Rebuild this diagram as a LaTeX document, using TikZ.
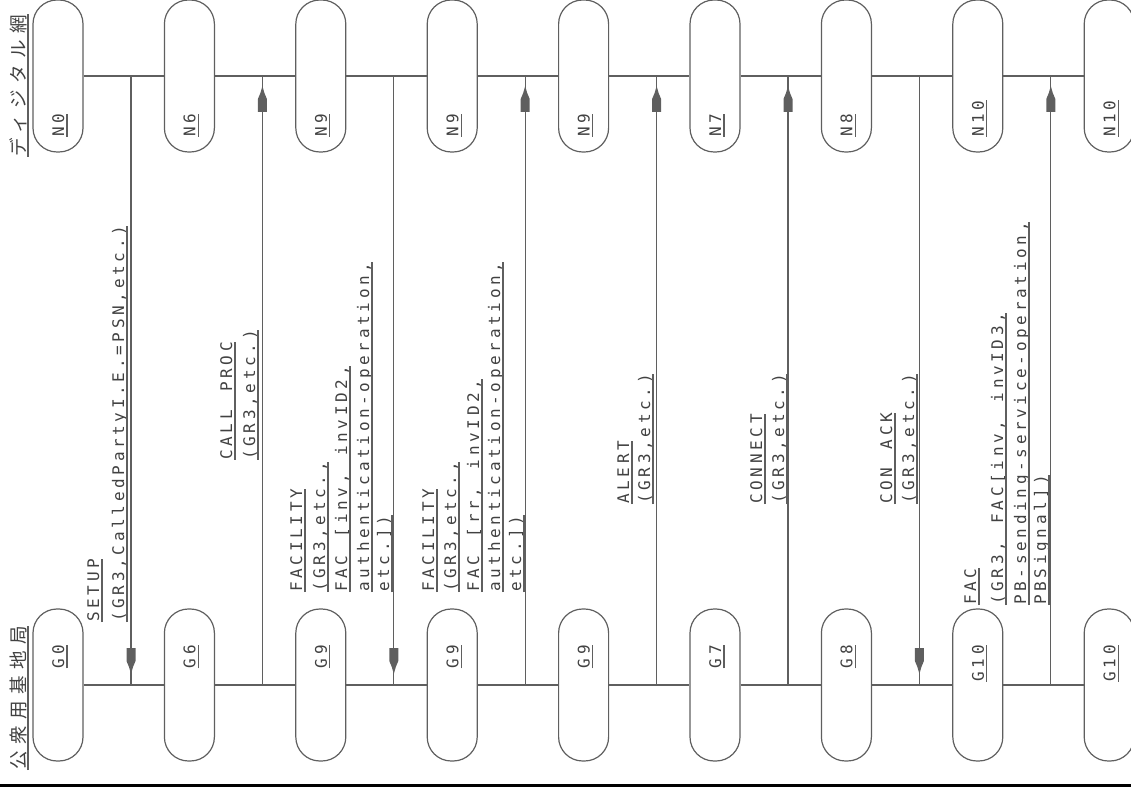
\documentclass[tikz,border=0pt]{standalone}
\usepackage{fontspec}
\usetikzlibrary{calc}
\newfontfamily\lblfont[LetterSpace=23,WordSpace=1.38]{DejaVu Sans Mono}
\newfontfamily\jpfont[LetterSpace=35]{Noto Sans CJK JP}
\definecolor{ink}{RGB}{65,65,65}
\definecolor{lin}{RGB}{95,95,95}
\newcommand\mylbl[4]{%
  \node[txt, anchor=south west] (#1) at (#2,#3) {#4};
  \draw[uline] (#1.south west) -- (#1.south east);}
\begin{document}
\begin{tikzpicture}[x=0.75pt,y=-0.75pt,
  stad/.style={draw=lin, line width=0.9pt, rounded corners=18pt,
    minimum width=37.5pt, minimum height=114pt, inner sep=0pt},
  ln/.style={draw=lin, line width=0.9pt},
  uline/.style={draw=lin, line width=0.8pt},
  txt/.style={rotate=90, inner sep=0pt, text height=0.75em, text depth=0.2em,
    font=\lblfont\fontsize{12}{14}\selectfont, text=ink},
  jp/.style={rotate=90, inner sep=0pt, text height=0.88em, text depth=0.14em,
    font=\jpfont\fontsize{13.9}{16}\selectfont, text=ink},
  arr/.style={fill=lin}]
\useasboundingbox (0,0) rectangle (1131,787);

% state boxes and their labels
\foreach \i/\nl/\gl in {0/N0/G0,1/N6/G6,2/N9/G9,3/N9/G9,4/N9/G9,5/N7/G7,6/N8/G8,7/N10/G10,8/N10/G10}{
  \pgfmathsetmacro\cx{58+131.4*\i}
  \node[stad] (n\i) at (\cx,76) {};
  \node[stad] (g\i) at (\cx,685) {};
  \node[txt, anchor=south west] (nl\i) at (\cx+9,137) {\nl};
  \draw[uline] (nl\i.south west) -- (nl\i.south east);
  \node[txt, anchor=south east] (gl\i) at (\cx+9,645) {\gl};
  \draw[uline] (gl\i.south west) -- (gl\i.south east);
}

% horizontal connections
\foreach \i [evaluate=\i as \j using int(\i+1)] in {0,...,7}{
  \draw[ln] (n\i) -- (n\j);
  \draw[ln] (g\i) -- (g\j);
}

% message lines
\foreach \i in {0,...,7}{
  \pgfmathsetmacro\mx{131+131.4*\i}
  \coordinate (t\i) at (\mx,76);
  \coordinate (b\i) at (\mx,685);
  \draw[ln] (t\i) -- (b\i);
}
% downward arrowheads
\foreach \i in {0,2,6}{
  \fill[arr] ($(b\i)+(0,-11)$) -- ++(2,-7) -- ++(2.5,-6) -- ++(0,-13) -- ++(-9,0) -- ++(0,13) -- ++(2.5,6) -- cycle;
}
% upward arrowheads
\foreach \i in {1,3,4,5,7}{
  \fill[arr] ($(t\i)+(0,10)$) -- ++(2,7) -- ++(2.5,6) -- ++(0,13) -- ++(-9,0) -- ++(0,-13) -- ++(2.5,-6) -- cycle;
}

% message labels
\mylbl{s1}{102}{622}{SETUP}
\mylbl{s2}{127}{622}{(GR3,CalledPartyI.E.=PSN,etc.)}
\mylbl{c1}{235}{460}{CALL PROC}
\mylbl{c2}{258}{460}{(GR3,etc.)}
\mylbl{fa1}{305}{592}{FACILITY}
\mylbl{fa2}{328}{592}{(GR3,etc.,}
\mylbl{fa3}{350}{592}{FAC [inv, invID2,}
\mylbl{fa4}{372}{592}{authentication-operation,}
\mylbl{fa5}{392}{592}{etc.])}
\mylbl{fb1}{437}{592}{FACILITY}
\mylbl{fb2}{459}{592}{(GR3,etc.,}
\mylbl{fb3}{482}{592}{FAC [rr, invID2,}
\mylbl{fb4}{503}{592}{authentication-operation,}
\mylbl{fb5}{524}{592}{etc.])}
\mylbl{al1}{632}{504}{ALERT}
\mylbl{al2}{653}{504}{(GR3,etc.)}
\mylbl{co1}{765}{504}{CONNECT}
\mylbl{co2}{787}{504}{(GR3,etc.)}
\mylbl{ca1}{895}{504}{CON ACK}
\mylbl{ca2}{917}{504}{(GR3,etc.)}
\mylbl{fc1}{979}{605}{FAC}
\mylbl{fc2}{1006}{605}{(GR3, FAC[inv, invID3,}
\mylbl{fc3}{1029}{605}{PB-sending-service-operation,}
\mylbl{fc4}{1049}{605}{PBSignal])}

% side titles
\node[jp, anchor=south west] (jpb) at (28,770) {公衆用基地局};
\draw[uline] (jpb.south west) -- (jpb.south east);
\node[jp, anchor=south west] (jpt) at (28,157) {ディジタル網};
\draw[uline] (jpt.south west) -- (jpt.south east);

% bottom bar
\fill[black] (0,783.5) rectangle (1131,787);
\end{tikzpicture}
\end{document}
